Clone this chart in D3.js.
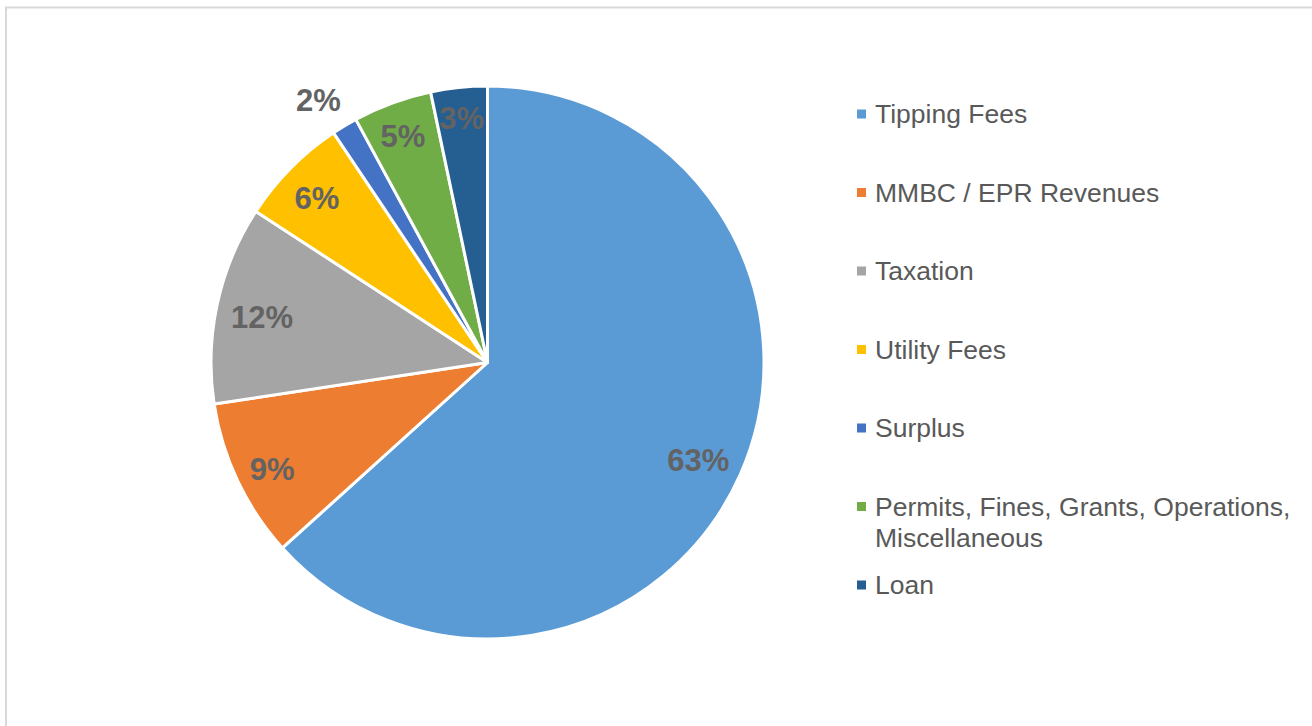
<!DOCTYPE html>
<html>
<head>
<meta charset="utf-8">
<script src="https://cdn.jsdelivr.net/npm/d3@7"></script>
<style>
  html, body { margin: 0; padding: 0; background: #fff; }
  svg { display: block; font-family: "Liberation Sans", Arial, sans-serif; }
</style>
</head>
<body>
<div id="chart"></div>
<script>
// revenue sources, share of total (%)
const categories = [
    "Tipping Fees",
    "MMBC / EPR Revenues",
    "Taxation",
    "Utility Fees",
    "Surplus",
    "Permits, Fines, Grants, Operations, Miscellaneous",
    "Loan"
];
const shares = [63.3, 9.3, 11.6, 6.4, 1.5, 4.6, 3.3];
const labels = ["63%", "9%", "12%", "6%", "2%", "5%", "3%"];
const legendLines = [
    ["Tipping Fees"],
    ["MMBC / EPR Revenues"],
    ["Taxation"],
    ["Utility Fees"],
    ["Surplus"],
    ["Permits, Fines, Grants, Operations,", "Miscellaneous"],
    ["Loan"]
];
const colors = ["#5B9BD5", "#ED7D31", "#A5A5A5", "#FFC000", "#4472C4", "#70AD47", "#255E91"];

const width = 1312, height = 726;
const cx = 487.5, cy = 362.5, r = 276.5;
const labelSize = 31;

const svg = d3.select("#chart").append("svg")
    .attr("width", width)
    .attr("height", height);

// chart frame (only top and left visible in the crop)
svg.append("path")
    .attr("d", `M6,${height} V7.5 H${width}`)
    .attr("fill", "none")
    .attr("stroke", "#d9d9d9")
    .attr("stroke-width", 2);

const color = d3.scaleOrdinal().domain(categories).range(colors);

const pie = d3.pie().sort(null).value(d => d.value);
const rows = categories.map((c, i) => ({ name: c, value: shares[i], label: labels[i], lines: legendLines[i] }));
const arcs = pie(rows);

const arc = d3.arc().innerRadius(0).outerRadius(r);

const g = svg.append("g").attr("transform", `translate(${cx},${cy})`);

g.selectAll("path.slice").data(arcs).enter().append("path")
    .attr("class", "slice")
    .attr("d", arc)
    .attr("fill", d => color(d.data.name))
    .attr("stroke", "#fff")
    .attr("stroke-width", 3)
    .attr("stroke-linejoin", "round");

// data labels: "inside end", tiny slices get pushed outside
const lbl = g.selectAll("text.lbl").data(arcs).enter().append("text")
    .attr("class", "lbl")
    .attr("text-anchor", "middle")
    .attr("dy", "0.48em")
    .style("font-size", labelSize + "px")
    .style("font-weight", "bold")
    .style("fill", "#636363")
    .text(d => d.data.label);

lbl.attr("transform", function(d) {
    const a = (d.startAngle + d.endAngle) / 2;
    const ux = Math.sin(a), uy = -Math.cos(a);
    const w = this.getComputedTextLength(), h = labelSize * 0.72;
    // how far the box corner sticks out along the mid-angle
    const proj = Math.abs(ux) * w / 2 + Math.abs(uy) * h / 2;
    const rc = d.data.value < 2 ? r + 14 + proj : r - 13 - proj;
    const shift = d.data.value < 2 ? -8 : 0;
    return `translate(${ux * rc + shift},${uy * rc})`;
});

// legend
const ly = d3.scalePoint().domain(categories).range([114, 585]);
const legend = svg.append("g").selectAll("g").data(rows).enter().append("g")
    .attr("transform", d => `translate(857,${ly(d.name)})`);

legend.append("rect")
    .attr("x", 0).attr("y", -4.5)
    .attr("width", 9).attr("height", 9)
    .attr("fill", d => color(d.name));

legend.append("text")
    .attr("x", 18)
    .attr("y", 9)
    .style("font-size", "26.5px")
    .style("fill", "#595959")
    .selectAll("tspan").data(d => d.lines).enter().append("tspan")
    .attr("x", 18)
    .attr("dy", (d, i) => i === 0 ? 0 : 31)
    .text(d => d);
</script>
</body>
</html>
